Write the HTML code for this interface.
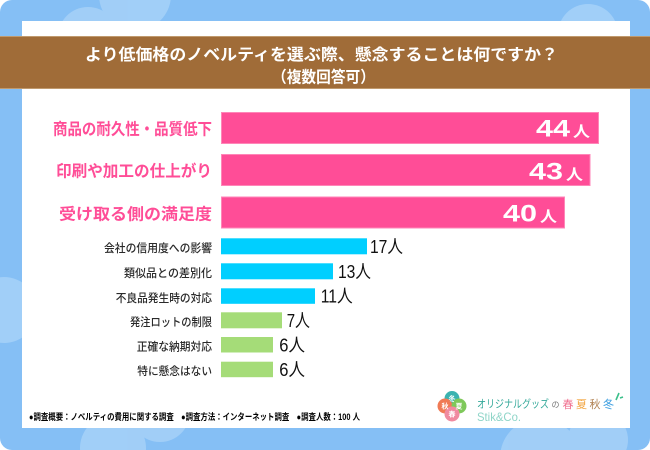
<!DOCTYPE html>
<html><head><meta charset="utf-8">
<style>
html,body{margin:0;padding:0;background:#fff;width:650px;height:450px;overflow:hidden;}
svg{display:block;}
text{font-family:"Liberation Sans","Noto Sans CJK JP",sans-serif;}
</style></head>
<body>
<svg width="650" height="450" viewBox="0 0 650 450" xmlns="http://www.w3.org/2000/svg">
<rect x="0" y="0" width="650" height="450" fill="#ffffff"/>
<rect x="0" y="0" width="650" height="450" rx="12" ry="12" fill="#85bff5"/>
<g fill="#a6d1f8" opacity="0.85">
<circle cx="88" cy="37" r="30"/>
<path d="M99.35 0 A36 36 0 0 0 170.65 0 Z"/>
<circle cx="588" cy="34" r="30"/>
<path d="M0 277.24 A33 33 0 1 1 0 342.76 Z"/>
<path d="M80.06 450 A33 33 0 1 1 145.94 450 Z"/>
<circle cx="160" cy="412" r="30"/>
<path d="M500.81 450 A40 40 0 0 1 579.19 450 Z"/>
<path d="M569.72 450 A30 30 0 1 1 626.28 450 Z"/>
</g>
<rect x="22" y="21" width="608" height="407" fill="#ffffff"/>
<rect x="0" y="36" width="650" height="53" fill="#a06c38"/>
<rect x="0" y="36" width="650" height="1" fill="#c09a6e"/>
<rect x="0" y="88" width="650" height="1" fill="#c09a6e"/>
<text x="85" y="60" font-size="16" font-weight="700" fill="#ffffff" textLength="473" lengthAdjust="spacingAndGlyphs">より低価格のノベルティを選ぶ際、懸念することは何ですか？</text>
<text x="272" y="82.5" font-size="16" font-weight="700" fill="#ffffff" textLength="103" lengthAdjust="spacingAndGlyphs">（複数回答可）</text>

<!-- pink bars -->
<g fill="#ff4d97" stroke="#ff86b8" stroke-width="1">
<rect x="221.5" y="112.5" width="377" height="31"/>
<rect x="221.5" y="154.5" width="368.5" height="31"/>
<rect x="221.5" y="197" width="343" height="31"/>
</g>
<g fill="#ff4d97" font-size="16" font-weight="700">
<text x="53" y="134.5" textLength="159" lengthAdjust="spacingAndGlyphs">商品の耐久性・品質低下</text>
<text x="56" y="176.5" textLength="156" lengthAdjust="spacingAndGlyphs">印刷や加工の仕上がり</text>
<text x="59" y="219.5" textLength="153" lengthAdjust="spacingAndGlyphs">受け取る側の満足度</text>
</g>
<g fill="#ffffff" font-weight="700">
<text x="536" y="136.7" font-size="24" textLength="34" lengthAdjust="spacingAndGlyphs">44</text>
<text x="573" y="136.7" font-size="15" textLength="17" lengthAdjust="spacingAndGlyphs">人</text>
<text x="529" y="179.5" font-size="24" textLength="34" lengthAdjust="spacingAndGlyphs">43</text>
<text x="566" y="179.5" font-size="15" textLength="17" lengthAdjust="spacingAndGlyphs">人</text>
<text x="503" y="221.7" font-size="24" textLength="34" lengthAdjust="spacingAndGlyphs">40</text>
<text x="540" y="221.7" font-size="15" textLength="17" lengthAdjust="spacingAndGlyphs">人</text>
</g>

<!-- small bars -->
<g fill="#00cfff">
<rect x="221" y="238.3" width="146" height="16"/>
<rect x="221" y="263.3" width="112" height="16"/>
<rect x="221" y="288.3" width="94" height="15.5"/>
</g>
<g fill="#a5dc78">
<rect x="221" y="312.3" width="61" height="16"/>
<rect x="221" y="337" width="52" height="15.5"/>
<rect x="221" y="361.7" width="52" height="15.5"/>
</g>
<g fill="#2a2a2a" font-size="11.5" font-weight="500">
<text x="104" y="252" textLength="108" lengthAdjust="spacingAndGlyphs">会社の信用度への影響</text>
<text x="124" y="277" textLength="88" lengthAdjust="spacingAndGlyphs">類似品との差別化</text>
<text x="115.7" y="301.8" textLength="96.3" lengthAdjust="spacingAndGlyphs">不良品発生時の対応</text>
<text x="130" y="326" textLength="82" lengthAdjust="spacingAndGlyphs">発注ロットの制限</text>
<text x="136.7" y="350.5" textLength="75.3" lengthAdjust="spacingAndGlyphs">正確な納期対応</text>
<text x="137.3" y="375.2" textLength="74.7" lengthAdjust="spacingAndGlyphs">特に懸念はない</text>
</g>
<g fill="#111111" font-size="18">
<text x="370" y="252.8" textLength="33" lengthAdjust="spacingAndGlyphs">17人</text>
<text x="338" y="277.8" textLength="33" lengthAdjust="spacingAndGlyphs">13人</text>
<text x="320.7" y="302.3" textLength="32" lengthAdjust="spacingAndGlyphs">11人</text>
<text x="286.7" y="326.8" textLength="23.3" lengthAdjust="spacingAndGlyphs">7人</text>
<text x="279.3" y="351.3" textLength="25.7" lengthAdjust="spacingAndGlyphs">6人</text>
<text x="279.3" y="376" textLength="25.7" lengthAdjust="spacingAndGlyphs">6人</text>
</g>

<!-- footer -->
<text x="29" y="420" font-size="9" font-weight="700" fill="#000000" textLength="331" lengthAdjust="spacingAndGlyphs">●調査概要：ノベルティの費用に関する調査　●調査方法：インターネット調査　●調査人数：100 人</text>

<!-- logo -->
<g>
<circle cx="452" cy="398.5" r="7.5" fill="#3bb3b0"/>
<circle cx="445" cy="406" r="7.5" fill="#f07a55"/>
<circle cx="459" cy="406" r="7.5" fill="#7ec85a"/>
<circle cx="452" cy="414" r="7.5" fill="#f08aa0"/>
<g fill="#ffffff" font-size="7" font-weight="700" text-anchor="middle">
<text x="452" y="401">冬</text>
<text x="445" y="408.5">秋</text>
<text x="459" y="408.5">夏</text>
<text x="452" y="416.5">春</text>
</g>
<text x="477" y="407.5" font-size="11" fill="#35a99a" textLength="72" lengthAdjust="spacingAndGlyphs">オリジナルグッズ</text>
<text x="551.5" y="407.5" font-size="8" fill="#777777">の</text>
<text x="562.5" y="408" font-size="11" fill="#f06f8f">春</text>
<text x="576" y="408" font-size="11" fill="#f2a23a">夏</text>
<text x="589.5" y="408" font-size="11" fill="#b08050">秋</text>
<text x="603" y="408" font-size="11" fill="#3a9de0">冬</text>
<path d="M616 400 L619 393 M620 398 L623 397" stroke="#3bbf8a" stroke-width="1.6" fill="none"/>
<text x="477" y="421" font-size="12" fill="#8fd5c8" textLength="44" lengthAdjust="spacingAndGlyphs">Stik&amp;Co.</text>
</g>
</svg>
</body></html>
